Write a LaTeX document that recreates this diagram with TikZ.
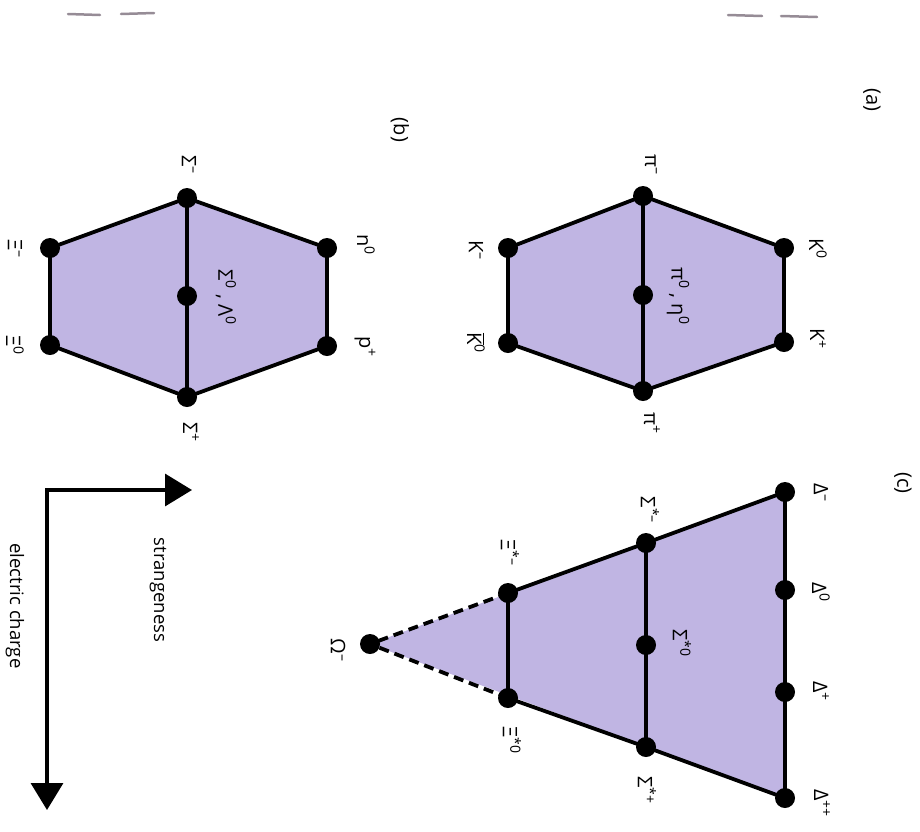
\documentclass[tikz,border=0pt]{standalone}
\usepackage{fontspec}
\setmainfont{Open Sans}
\usetikzlibrary{arrows.meta}
\definecolor{lav}{RGB}{192,181,227}
\definecolor{markgray}{RGB}{150,140,150}
\begin{document}
\begin{tikzpicture}[x=1pt,y=-1pt,
  dot/.style={circle,fill=black,inner sep=0pt,minimum size=20pt},
  lbl/.style={rotate=-90,inner sep=0pt,font=\fontsize{20}{20}\selectfont},
  axlbl/.style={rotate=-90,inner sep=0pt,font=\fontsize{18.5}{18.5}\selectfont},
  edge/.style={line width=3.8pt,line join=round,line cap=round},
  dashedge/.style={line width=3.8pt,dash pattern=on 10pt off 6pt},
  axis/.style={line width=3.4pt,line join=miter,{Triangle[length=27pt,width=32pt]}-{Triangle[length=27pt,width=32pt]}},
  scanmark/.style={markgray,line width=2.5pt,line cap=round},
]
\useasboundingbox (0,0) rectangle (920,831);

% scan marks at top
\coordinate (m1a) at (68,14); \coordinate (m1b) at (100,15);
\coordinate (m2a) at (121,14); \coordinate (m2b) at (154,13);
\coordinate (m3a) at (728,15); \coordinate (m3b) at (762,16);
\coordinate (m4a) at (781,16); \coordinate (m4b) at (817,17);
\draw[scanmark] (m1a) -- (m1b);
\draw[scanmark] (m2a) -- (m2b);
\draw[scanmark] (m3a) -- (m3b);
\draw[scanmark] (m4a) -- (m4b);

% ---------- (a) meson octet ----------
\coordinate (pim) at (643,196);
\coordinate (Kz)  at (784,248);
\coordinate (Kp)  at (784,342);
\coordinate (pip) at (643,391);
\coordinate (Kzb) at (508,343);
\coordinate (Km)  at (508,248);
\coordinate (pic) at (643,295);
\fill[lav] (pim) -- (Kz) -- (Kp) -- (pip) -- (Kzb) -- (Km) -- cycle;
\draw[edge] (pim) -- (Kz) -- (Kp) -- (pip) -- (Kzb) -- (Km) -- cycle;
\draw[edge] (pim) -- (pic) -- (pip);
\foreach \n in {pim,Kz,Kp,pip,Kzb,Km,pic} \node[dot] (d\n) at (\n) {};
\node[lbl] (lKz)  at (818,249) {K\textsuperscript{0}};
\node[lbl] (lKp)  at (818,339) {K\textsuperscript{+}};
\node[lbl] (lpim) at (651,165) {π\textsuperscript{–}};
\node[lbl] (lpip) at (652,423) {π\textsuperscript{+}};
\node[lbl] (lKzb) at (476,343) {$\overline{\hbox{K}}$\textsuperscript{0}};
\node[lbl] (lKm)  at (476,250) {K\textsuperscript{–}};
\node[lbl] (lpic) at (678,296) {π\textsuperscript{0} , η\textsuperscript{0}};
\node[lbl] (la)   at (872,100) {(a)};

% ---------- (b) baryon octet ----------
\coordinate (Sm)  at (187,198);
\coordinate (n0)  at (327,248);
\coordinate (pp)  at (327,346);
\coordinate (Sp)  at (187,397);
\coordinate (Xz)  at (50,345);
\coordinate (Xm)  at (50,248);
\coordinate (Sc)  at (187,296);
\fill[lav] (Sm) -- (n0) -- (pp) -- (Sp) -- (Xz) -- (Xm) -- cycle;
\draw[edge] (Sm) -- (n0) -- (pp) -- (Sp) -- (Xz) -- (Xm) -- cycle;
\draw[edge] (Sm) -- (Sc) -- (Sp);
\foreach \n in {Sm,n0,pp,Sp,Xz,Xm,Sc} \node[dot] (d\n) at (\n) {};
\node[lbl] (lSm) at (189,165) {Σ\textsuperscript{–}};
\node[lbl] (ln0) at (366,245) {n\textsuperscript{0}};
\node[lbl] (lpp) at (365,347) {p\textsuperscript{+}};
\node[lbl] (lSp) at (191,432) {Σ\textsuperscript{+}};
\node[lbl] (lXz) at (15,345) {Ξ\textsuperscript{0}};
\node[lbl] (lXm) at (15,249) {Ξ\textsuperscript{–}};
\node[lbl] (lSc) at (226,297) {Σ\textsuperscript{0} , Λ\textsuperscript{0}};
\node[lbl] (lb)  at (400,130) {(b)};

% ---------- (c) baryon decuplet ----------
\coordinate (Dm)  at (785,492);
\coordinate (Dz)  at (785,590);
\coordinate (Dp)  at (785,692);
\coordinate (Dpp) at (785,798);
\coordinate (SSm) at (646,543);
\coordinate (SSz) at (646,645);
\coordinate (SSp) at (646,747);
\coordinate (XXm) at (508,593);
\coordinate (XXz) at (508,698);
\coordinate (Om)  at (370,644);
\fill[lav] (Dm) -- (Dpp) -- (Om) -- cycle;
\draw[edge] (Dm) -- (Dz) -- (Dp) -- (Dpp);
\draw[edge] (Dm) -- (SSm) -- (XXm);
\draw[edge] (Dpp) -- (SSp) -- (XXz);
\draw[edge] (SSm) -- (SSz) -- (SSp);
\draw[edge] (XXm) -- (XXz);
\draw[dashedge] (XXm) -- (Om);
\draw[dashedge] (XXz) -- (Om);
\foreach \n in {Dm,Dz,Dp,Dpp,SSm,SSz,SSp,XXm,XXz,Om} \node[dot] (d\n) at (\n) {};
\node[lbl] (lDm)  at (821,493) {Δ\textsuperscript{–}};
\node[lbl] (lDz)  at (821,592) {Δ\textsuperscript{0}};
\node[lbl] (lDp)  at (821,691) {Δ\textsuperscript{+}};
\node[lbl] (lDpp) at (822,803) {Δ\textsuperscript{++}};
\node[lbl] (lSSm) at (650,510) {Σ\textsuperscript{*–}};
\node[lbl] (lSSz) at (682,643) {Σ\textsuperscript{*0}};
\node[lbl] (lSSp) at (647,790) {Σ\textsuperscript{*+}};
\node[lbl] (lXXm) at (510,553) {Ξ\textsuperscript{*–}};
\node[lbl] (lXXz) at (512,740) {Ξ\textsuperscript{*0}};
\node[lbl] (lOm)  at (338,650) {Ω\textsuperscript{–}};
\node[lbl] (lc)   at (903,483) {(c)};

% ---------- axes ----------
\coordinate (corner) at (47,490);
\coordinate (stip) at (192,490);
\coordinate (etip) at (47,810);
\draw[axis] (stip) -- (corner) -- (etip);
\node[axlbl] (lstr) at (158,590) {strangeness};
\node[axlbl] (lech) at (15,606) {electric charge};
\end{tikzpicture}
\end{document}
